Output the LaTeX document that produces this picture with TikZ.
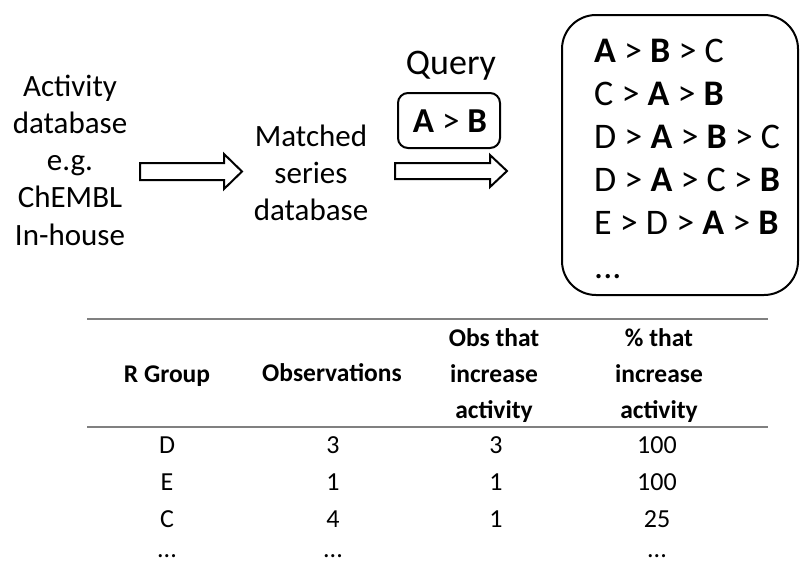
\documentclass[tikz,border=0pt]{standalone}
\usepackage{fontspec}
\setmainfont{Carlito}
\begin{document}
\begin{tikzpicture}[x=1pt,y=-1pt,
  big/.style={font=\fontsize{31}{37.3}\selectfont, align=center, inner sep=0pt},
  listtxt/.style={font=\fontsize{36}{43}\selectfont, anchor=base west, inner sep=0pt},
  blockarrow/.style={draw=black, line width=2pt, fill=white, line join=miter},
  rbox/.style={draw=black, line width=2pt},
  th/.style={font=\bfseries\fontsize{25.5}{36}\selectfont, align=center, inner sep=0pt},
  td/.style={font=\fontsize{26}{36}\selectfont, anchor=base, inner sep=0pt},
  rule/.style={draw=gray, line width=1.3pt}]
\useasboundingbox (0,0) rectangle (800,562);

% left texts
\node[big] (act) at (70,160) {Activity\\database\\e.g.\\ChEMBL\\In-house};
\node[big] (mat) at (311,173) {Matched\\series\\database};

% block arrows
\coordinate (a1) at (140,171.5);
\draw[blockarrow] (a1) ++(0,-8.5) -- ++(84,0) -- ++(0,-9) -- (242,171.5) -- (224,189) -- ++(0,-9) -- ++(-84,0) -- cycle;
\coordinate (a2) at (395,171);
\draw[blockarrow] (a2) ++(0,-8) -- ++(95,0) -- ++(0,-8) -- (507,171) -- (490,187) -- ++(0,-8) -- ++(-95,0) -- cycle;

% query
\node[font=\fontsize{36}{40}\selectfont, inner sep=0pt] (query) at (451,66) {Query};
\draw[rbox, rounded corners=10pt] (398,93) rectangle (500,148);
\node[font=\fontsize{35}{40}\selectfont, inner sep=0pt] (qab) at (450,121) {\textbf{A} > \textbf{B}};

% result box
\draw[rbox, rounded corners=34pt] (562,15) rectangle (798,295);
\node[listtxt] (r1) at (594,62) {\textbf{A} > \textbf{B} > C};
\node[listtxt] (r2) at (594,105) {C > \textbf{A} > \textbf{B}};
\node[listtxt] (r3) at (594,148) {D > \textbf{A} > \textbf{B} > C};
\node[listtxt] (r4) at (594,191) {D > \textbf{A} > C > \textbf{B}};
\node[listtxt] (r5) at (594,234) {E > D > \textbf{A} > \textbf{B}};
\node[listtxt] (r6) at (594,278) {...};

% table
\draw[rule] (87,319) -- (768,319);
\draw[rule] (87,427) -- (768,427);
\node[th] (h1) at (167,376) {R Group};
\node[th] (h2) at (332,373) {Observations};
\node[th] (h3) at (494,376) {Obs that\\increase\\activity};
\node[th] (h4) at (659,376) {\% that\\increase\\activity};

\node[td] (d1) at (167,453) {D};
\node[td] (d2) at (333,453) {3};
\node[td] (d3) at (496,453) {3};
\node[td] (d4) at (657,453) {100};
\node[td] (e1) at (167,490) {E};
\node[td] (e2) at (333,490) {1};
\node[td] (e3) at (496,490) {1};
\node[td] (e4) at (657,490) {100};
\node[td] (c1) at (167,527) {C};
\node[td] (c2) at (333,527) {4};
\node[td] (c3) at (496,527) {1};
\node[td] (c4) at (657,527) {25};
\node[td] (x1) at (167,557) {...};
\node[td] (x2) at (333,557) {...};
\node[td] (x4) at (657,557) {...};
\end{tikzpicture}
\end{document}
